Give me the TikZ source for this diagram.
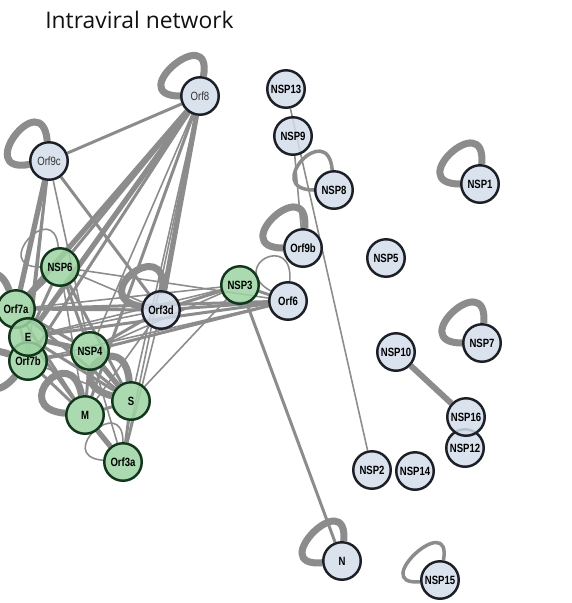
\documentclass[tikz,border=0pt]{standalone}
\usepackage{fontspec}
\setmainfont{Open Sans}
\newfontfamily\labfont[FakeStretch=0.8]{Liberation Sans}
\usetikzlibrary{backgrounds}
\definecolor{hostfill}{HTML}{D3DDEB}
\definecolor{hostborder}{HTML}{1C1F26}
\definecolor{cluster}{HTML}{9DD4A2}
\definecolor{clusterborder}{HTML}{12361C}
\definecolor{linkgray}{HTML}{8C8C8C}
\definecolor{titletext}{HTML}{111111}
\tikzset{
  prot/.style={circle, line width=1.4pt, minimum size=0.75cm, inner sep=0pt,
               fill opacity=0.85, text opacity=1, font=\labfont\bfseries\fontsize{6.8}{7}\selectfont},
  pblue/.style={prot, fill=hostfill, draw=hostborder},
  pgreen/.style={prot, fill=cluster, draw=clusterborder},
  plight/.style={pblue, font=\labfont\fontsize{6.8}{7}\selectfont, text=black!80},
  link/.style={draw=linkgray, line width=1.7pt},
  thin/.style={draw=linkgray, line width=0.9pt},
  thick/.style={draw=linkgray, line width=3pt},
  selfloop/.style={draw=linkgray, line width=4pt, distance=1.15cm},
  selfthin/.style={draw=linkgray, line width=0.9pt, distance=1.0cm},
  selfmid/.style={draw=linkgray, line width=2pt, distance=1.05cm},
}

\begin{document}
\begin{tikzpicture}[x=0.02cm, y=-0.02cm]
\useasboundingbox (0,0) rectangle (572,603);
\clip (0,0) rectangle (572,603);

\node[anchor=base west, font=\fontsize{13}{15}\selectfont, text=titletext, inner sep=0pt]
  (title) at (45,28) {Intraviral network};

% Proteins, at their pixel positions
\node[plight] (orf8)  at (200,96)  {Orf8};
\node[plight] (orf9c) at (49,161)  {Orf9c};
\node[pblue]  (nsp13) at (286,89)  {NSP13};
\node[pblue]  (nsp9)  at (293,136) {NSP9};
\node[pblue]  (nsp8)  at (334,190) {NSP8};
\node[pblue]  (nsp1)  at (480,184) {NSP1};
\node[pblue]  (orf9b) at (303,248) {Orf9b};
\node[pblue]  (nsp5)  at (386,258) {NSP5};
\node[pblue]  (orf6)  at (288,301) {Orf6};
\node[pblue]  (orf3d) at (161,310) {Orf3d};
\node[pblue]  (nsp10) at (396,352) {NSP10};
\node[pblue]  (nsp7)  at (482,343) {NSP7};
\node[pblue]  (nsp12) at (465,448) {NSP12};
\node[pblue]  (nsp16) at (466,417) {NSP16};
\node[pblue]  (nsp2)  at (372,470) {NSP2};
\node[pblue]  (nsp14) at (415,471) {NSP14};
\node[pblue]  (n)     at (342,561) {N};
\node[pblue]  (nsp15) at (440,580) {NSP15};

\node[pgreen] (nsp6)  at (60,267)  {NSP6};
\node[pgreen] (nsp3)  at (240,285) {NSP3};
\node[pgreen] (orf7a) at (16,309)  {Orf7a};
\node[pgreen] (orf7b) at (28,361)  {Orf7b};
\node[pgreen] (e)     at (28,337)  {E};
\node[pgreen] (nsp4)  at (90,351)  {NSP4};
\node[pgreen] (s)     at (131,401) {S};
\node[pgreen] (m)     at (85,415)  {M};
\node[pgreen] (orf3a) at (123,462) {Orf3a};

\begin{scope}[on background layer]
  % interactions
  \foreach \a/\b in {orf8/orf7a, orf8/e, orf8/orf3d, orf9c/orf7a, orf7a/e,
                     e/nsp4, e/orf7b, nsp4/s, m/orf3a}
    \draw[thick] (\a) -- (\b);
  \foreach \a/\b in {orf8/orf9c, orf8/nsp6, orf8/orf7b, orf8/m, orf9c/e, orf9c/orf3d,
                     nsp6/orf7a, nsp6/e, nsp6/nsp4, nsp6/s, orf7a/orf3d, orf7a/orf6,
                     orf7a/nsp4, orf7a/s, orf7a/m, orf7a/orf7b, e/orf6, e/s, e/m,
                     orf7b/nsp4, orf7b/m, nsp4/orf6, nsp4/orf3d, nsp4/m, orf3d/orf6,
                     orf3d/nsp3, nsp3/orf6, nsp3/n, s/orf3a, s/m}
    \draw[link] (\a) -- (\b);
  \foreach \a/\b in {orf8/nsp4, orf8/s, orf8/orf3a, orf9c/orf7b, orf9c/nsp4,
                     nsp6/m, nsp6/orf3d, nsp6/orf6, orf7a/nsp3, e/orf3d, e/nsp3,
                     orf7b/orf6, orf7b/s, nsp4/orf3a, nsp4/nsp3, orf3d/orf3a,
                     orf3d/m, nsp3/s, nsp9/orf9b, nsp13/nsp2}
    \draw[thin] (\a) -- (\b);
  \draw[line width=3.4pt, linkgray] (nsp10) -- (nsp16);

  % self interactions
  \draw[selfloop] (orf8)  to[out=180, in=80]  (orf8);
  \draw[selfloop] (orf9c) to[out=190, in=95]  (orf9c);
  \draw[selfloop] (nsp1)  to[out=180, in=85]  (nsp1);
  \draw[selfloop] (nsp7)  to[out=180, in=85]  (nsp7);
  \draw[selfloop] (n)     to[out=185, in=85]  (n);
  \draw[selfloop] (orf9b) to[out=180, in=85]  (orf9b);
  \draw[selfloop] (orf3d) to[out=170, in=85]  (orf3d);
  \draw[selfloop] (m)     to[out=175, in=100] (m);
  \draw[selfloop] (s)     to[out=165, in=95]  (s);
  \draw[selfloop] (orf7a) to[out=200, in=110] (orf7a);
  \draw[selfloop] (orf7b) to[out=230, in=160] (orf7b);
  \draw[selfmid]  (nsp8)  to[out=180, in=95]  (nsp8);
  \draw[selfmid]  (nsp15) to[out=185, in=80]  (nsp15);
  \draw[selfthin] (orf6)  to[out=150, in=85]  (orf6);
  \draw[selfthin] (nsp6)  to[out=180, in=95]  (nsp6);
  \draw[selfthin] (orf3a) to[out=175, in=90]  (orf3a);
\end{scope}

\end{tikzpicture}
\end{document}
